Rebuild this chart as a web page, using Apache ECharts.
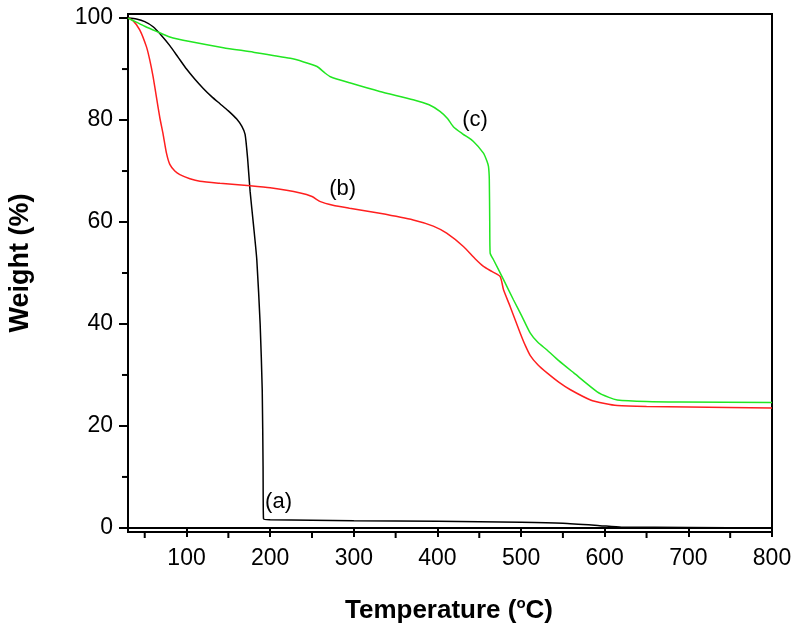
<!DOCTYPE html>
<html>
<head>
<meta charset="utf-8">
<script src="https://cdn.jsdelivr.net/npm/echarts@6/dist/echarts.min.js"></script>
<style>html,body{margin:0;padding:0;background:#fff}#c{width:800px;height:636px}</style>
</head>
<body>
<div id="c"></div>
<script>
// ---- data ----
const xMajorTicks = [100, 200, 300, 400, 500, 600, 700, 800];
const xMinorTicks = [50, 150, 250, 350, 450, 550, 650, 750];
const yMajorTicks = [0, 20, 40, 60, 80, 100];
const yMinorTicks = [10, 30, 50, 70, 90];

const curveA = [[30,100],[40,99.8],[50,99.3],[60,98.3],[70,96.6],[80,94.6],[90,92.3],[100,90],[110,88],[120,86.2],[130,84.6],[140,83.2],[150,81.8],[160,80.2],[166,78.8],[170,77.2],[173,72.5],[176,66],[180,59.5],[184,52.6],[188,40],[190.5,27],[191.5,12],[192,1.8],[200,1.6],[300,1.4],[400,1.3],[500,1.1],[550,0.9],[594,0.45],[620,0.15],[700,0.1],[800,0]];
const curveB = [[30,100],[36,99.5],[44,97.7],[52,94.4],[56,91.8],[60,88.5],[64,84.5],[68,80.5],[72,77.2],[76,73.5],[80,71.3],[86,70],[92,69.3],[104,68.5],[116,68],[140,67.6],[176,67.1],[200,66.7],[236,65.7],[250,65],[260,64],[275,63.3],[295,62.7],[331,61.7],[371,60.4],[395,59.2],[411,57.8],[431,55.2],[445,52.8],[455,51.3],[465,50.3],[475,49.3],[479,46.7],[487,43.4],[499,38.2],[505,35.8],[511,33.8],[520,32.0],[531,30.4],[545,28.6],[559,27.1],[583,25.1],[600,24.4],[615,24.0],[650,23.8],[700,23.7],[800,23.5]];
const curveC = [[30,100],[40,99.2],[50,98.4],[64,97.4],[80,96.3],[104,95.4],[144,94.2],[180,93.3],[224,92.1],[240,91.4],[256,90.5],[265,89.3],[272,88.5],[295,87.3],[331,85.6],[371,84],[390,83],[403,81.7],[412,80.3],[419,78.7],[430,77.3],[443,75.8],[455,73.5],[459,72],[461,70.9],[462,68.3],[462.5,60],[463,53.9],[467,52.6],[479,48.7],[491,44.7],[501,41.5],[511,38.2],[520,36.4],[531,34.9],[545,32.8],[563,30.4],[591,26.7],[605,25.6],[615,25.1],[650,24.8],[690,24.7],[800,24.6]];
const curveLabels = [[210, 5.0, '(a)'], [286.6, 66.5, '(b)'], [445, 80.0, '(c)']];

const X_MIN = 30, X_MAX = 800, Y_MIN = -0.8, Y_MAX = 100.8;
const FONT = 'Liberation Sans, Arial, Helvetica, sans-serif';
const chart = echarts.init(document.getElementById('c'), null, {renderer: 'canvas'});

function minorX(params, api) {
  const p = api.coord([api.value(0), Y_MIN]);
  return {type: 'line', shape: {x1: p[0], y1: p[1], x2: p[0], y2: p[1] + 6}, style: {stroke: '#000', lineWidth: 2}};
}
function minorY(params, api) {
  const p = api.coord([X_MIN, api.value(1)]);
  return {type: 'line', shape: {x1: p[0], y1: p[1], x2: p[0] - 6, y2: p[1]}, style: {stroke: '#000', lineWidth: 2}};
}

chart.setOption({
  animation: false,
  backgroundColor: '#fff',
  grid: {left: 128, right: 28, top: 14, bottom: 104, show: true, borderColor: '#000', borderWidth: 2},
  xAxis: {
    type: 'value', min: X_MIN, max: X_MAX, splitLine: {show: false},
    axisLine: {show: true, lineStyle: {color: '#000', width: 2}},
    axisTick: {show: true, inside: false, length: 9, lineStyle: {color: '#000', width: 2}, customValues: xMajorTicks},
    axisLabel: {show: true, color: '#000', fontSize: 23, fontFamily: FONT, margin: 15, customValues: xMajorTicks}
  },
  yAxis: {
    type: 'value', min: Y_MIN, max: Y_MAX, splitLine: {show: false},
    axisLine: {show: true, lineStyle: {color: '#000', width: 2}},
    axisTick: {show: true, inside: false, length: 9, lineStyle: {color: '#000', width: 2}, customValues: yMajorTicks},
    axisLabel: {show: true, color: '#000', fontSize: 23, fontFamily: FONT, margin: 15, customValues: yMajorTicks}
  },
  series: [
    {type: 'custom', renderItem: minorX, data: xMinorTicks.map(v => [v, Y_MIN]), clip: false, silent: true, z: 5},
    {type: 'custom', renderItem: minorY, data: yMinorTicks.map(v => [X_MIN, v]), clip: false, silent: true, z: 5},
    {type: 'line', data: curveA, showSymbol: false, smooth: 0.2, lineStyle: {color: '#000', width: 1.5}, z: 3},
    {type: 'line', data: curveB, showSymbol: false, smooth: 0.2, lineStyle: {color: '#ff1f1f', width: 1.5}, z: 3},
    {type: 'line', data: curveC, showSymbol: false, smooth: 0.2, lineStyle: {color: '#22e622', width: 1.5}, z: 3},
    {type: 'scatter', data: curveLabels, symbolSize: 0, z: 4, silent: true,
      label: {show: true, position: 'inside', color: '#000', opacity: 1, fontSize: 22, fontFamily: FONT,
        formatter: p => p.value[2]}}
  ],
  graphic: [
    {type: 'text', x: 21, y: 263, rotation: Math.PI / 2, style: {text: 'Weight (%)', fill: '#000', font: 'bold 27px ' + FONT, align: 'center', verticalAlign: 'middle'}},
    {type: 'text', x: 449, y: 611, style: {
      text: '{t|Temperature (}{s|o}{t|C)}', align: 'center', verticalAlign: 'middle',
      rich: {
        t: {fontSize: 26, fontWeight: 'bold', fontFamily: FONT, fill: '#000', color: '#000'},
        s: {fontSize: 15, fontWeight: 'bold', fontFamily: FONT, fill: '#000', color: '#000', padding: [0, 0, 14, 0]}
      }
    }}
  ]
});
</script>
</body>
</html>
